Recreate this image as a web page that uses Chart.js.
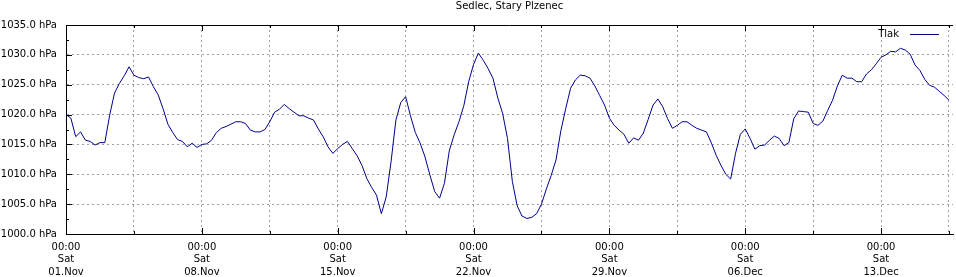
<!DOCTYPE html>
<html>
<head>
<meta charset="utf-8">
<script src="https://cdn.jsdelivr.net/npm/chart.js@4.4.1/dist/chart.umd.min.js"></script>
<style>
  html, body { margin: 0; padding: 0; background: #fff; }
  canvas { display: block; }
</style>
</head>
<body>
<canvas id="pressureChart" width="956" height="277"></canvas>
<script>
const chartTitle = 'Sedlec, Stary Plzenec';
const seriesName = 'Tlak';
const weekLabels = ['01.Nov', '08.Nov', '15.Nov', '22.Nov', '29.Nov', '06.Dec', '13.Dec'];
const weekTime = '00:00';
const weekDay = 'Sat';
const stepHours = 6; // one reading every 6 hours from 01.Nov 00:00

// pressure in hPa
const pressure = [
  1020.0, 1019.4, 1016.3, 1017.1, 1015.7, 1015.5, 1014.9, 1015.3, 1015.3, 1019.9,
  1023.6, 1025.2, 1026.5, 1028.0, 1026.6, 1026.2, 1026.0, 1026.3, 1024.7, 1023.3,
  1021.0, 1018.4, 1017.0, 1015.8, 1015.5, 1014.6, 1015.2, 1014.5, 1015.0, 1015.1,
  1015.7, 1017.0, 1017.7, 1018.0, 1018.4, 1018.8, 1018.8, 1018.5, 1017.4, 1017.1,
  1017.1, 1017.5, 1018.8, 1020.4, 1020.9, 1021.7, 1021.0, 1020.4, 1019.8, 1019.8,
  1019.4, 1019.1, 1017.6, 1016.3, 1014.6, 1013.5, 1014.3, 1015.0, 1015.5, 1014.3,
  1013.1, 1011.5, 1009.3, 1007.8, 1006.5, 1003.4, 1006.2, 1012.1, 1019.1, 1022.0,
  1023.0, 1019.8, 1017.0, 1015.2, 1012.9, 1009.9, 1007.1, 1006.0, 1008.5, 1013.9,
  1016.6, 1018.8, 1021.5, 1025.5, 1028.4, 1030.3, 1029.1, 1027.7, 1026.1, 1022.8,
  1020.2, 1016.0, 1008.8, 1004.7, 1003.0, 1002.6, 1002.8, 1003.4, 1005.0, 1007.5,
  1009.8, 1012.4, 1017.3, 1021.0, 1024.4, 1025.8, 1026.6, 1026.5, 1026.1, 1024.8,
  1023.2, 1021.6, 1019.4, 1018.2, 1017.4, 1016.7, 1015.2, 1016.1, 1015.7, 1016.9,
  1019.2, 1021.6, 1022.6, 1021.3, 1019.3, 1017.7, 1018.2, 1018.8, 1018.8, 1018.2,
  1017.7, 1017.4, 1017.1, 1015.3, 1013.2, 1011.5, 1010.0, 1009.2, 1013.5, 1016.7,
  1017.6, 1016.0, 1014.2, 1014.8, 1014.9, 1015.7, 1016.4, 1016.0, 1014.8, 1015.3,
  1019.3, 1020.6, 1020.5, 1020.4, 1018.5, 1018.2, 1018.9, 1020.7, 1022.4, 1024.8,
  1026.6, 1026.1, 1026.1, 1025.5, 1025.5, 1026.8, 1027.5, 1028.5, 1029.6, 1030.0,
  1030.6, 1030.5, 1031.1, 1030.8, 1030.1, 1028.3, 1027.4, 1025.9, 1024.9, 1024.6,
  1023.9, 1023.2, 1022.4
];

const yMin = 1000;
const yMax = 1035;
const yStep = 5;
const hoursPerWeek = 168;

const font = { family: 'DejaVu Sans', size: 10 };

// inward tick marks, top frame line and the legend (gnuplot style)
const frame = {
  id: 'frame',
  afterDatasetsDraw(chart) {
    const { ctx, chartArea: a, scales: { x, y } } = chart;
    ctx.save();
    ctx.strokeStyle = '#000';
    ctx.lineWidth = 1;
    ctx.beginPath();
    ctx.moveTo(a.left, a.top + 0.5);
    ctx.lineTo(a.right, a.top + 0.5);
    x.ticks.forEach(t => {
      const px = Math.round(x.getPixelForValue(t.value)) + 0.5;
      const len = t.value % hoursPerWeek === 0 ? 6 : 3;
      ctx.moveTo(px, a.bottom);
      ctx.lineTo(px, a.bottom - len);
      ctx.moveTo(px, a.top);
      ctx.lineTo(px, a.top + len);
    });
    for (let v = yMin; v <= yMax; v += yStep / 2) {
      const py = Math.round(y.getPixelForValue(v)) + 0.5;
      const len = v % yStep === 0 ? 6 : 3;
      ctx.moveTo(a.left, py);
      ctx.lineTo(a.left + len, py);
    }
    ctx.stroke();

    // legend
    const ds = chart.data.datasets[0];
    ctx.font = '10px "DejaVu Sans"';
    ctx.fillStyle = '#000';
    ctx.textAlign = 'right';
    ctx.textBaseline = 'middle';
    ctx.fillText(ds.label, a.right - 54, a.top + 9);
    ctx.strokeStyle = ds.borderColor;
    ctx.beginPath();
    ctx.moveTo(a.right - 43, a.top + 9.5);
    ctx.lineTo(a.right - 14, a.top + 9.5);
    ctx.stroke();
    ctx.restore();
  }
};

const ctx = document.getElementById('pressureChart').getContext('2d');
new Chart(ctx, {
  type: 'line',
  data: {
    datasets: [{
      label: seriesName,
      data: pressure.map((v, i) => ({ x: i * stepHours, y: v })),
      borderColor: '#00008b',
      borderWidth: 1,
      pointRadius: 0,
      tension: 0,
      fill: false
    }]
  },
  options: {
    responsive: false,
    animation: false,
    devicePixelRatio: 1,
    layout: { padding: 0 },
    plugins: {
      legend: { display: false },
      tooltip: { enabled: false },
      title: {
        display: true,
        text: chartTitle,
        fullSize: false,
        color: '#000',
        font: { family: 'DejaVu Sans', size: 10, weight: 'normal' },
        padding: { top: 0, bottom: 13 }
      }
    },
    scales: {
      x: {
        type: 'linear',
        min: 0,
        max: 1097,
        afterBuildTicks(scale) {
          const ticks = [];
          for (let h = 0; h <= scale.max; h += hoursPerWeek / 2) ticks.push({ value: h });
          scale.ticks = ticks;
        },
        afterFit(scale) { scale.height = 43; },
        ticks: {
          autoSkip: false,
          maxRotation: 0,
          padding: 7,
          color: '#000',
          font: { family: 'DejaVu Sans', size: 10, lineHeight: 1.25 },
          callback(value) {
            if (value % hoursPerWeek !== 0) return '';
            return [weekTime, weekDay, weekLabels[value / hoursPerWeek]];
          }
        },
        grid: { color: '#a0a0a0', drawTicks: false },
        border: { display: true, color: '#000', width: 1, dash: [2, 3] }
      },
      y: {
        min: yMin,
        max: yMax,
        afterFit(scale) { scale.width = 66; },
        ticks: {
          stepSize: yStep,
          padding: 9,
          color: '#000',
          font: font,
          callback: value => value.toFixed(1) + ' hPa'
        },
        grid: { color: '#a0a0a0', drawTicks: false },
        border: { display: true, color: '#000', width: 1, dash: [2, 3] }
      }
    }
  },
  plugins: [frame]
});
</script>
</body>
</html>
